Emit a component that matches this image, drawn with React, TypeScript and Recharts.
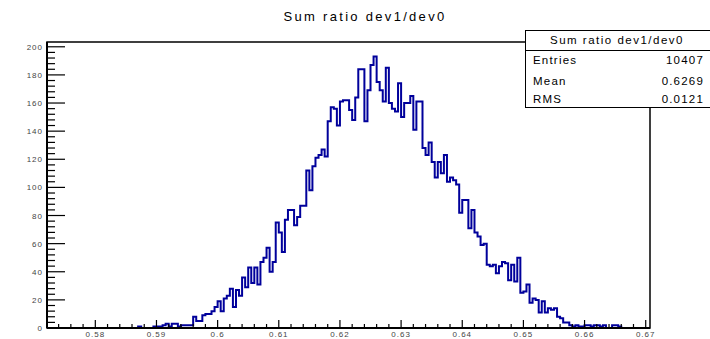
import { LineChart, Line, XAxis, YAxis, ReferenceArea } from 'recharts';

// histogram "Sum ratio dev1/dev0", bins of 0.0005 starting at 0.587
const binStart = 0.587;
const binWidth = 0.0005;
const counts = [
  1, 0, 0, 0, 0, 1, 1, 1, 2, 3, 1, 3, 3, 1, 2, 2, 2, 2,
  8, 5, 5, 9, 10, 10, 12, 15, 19, 12, 21, 23,
  28, 15, 27, 23, 36, 29, 43, 32, 43, 31, 47, 50,
  57, 40, 47, 75, 68, 54, 77, 84, 84, 73, 79, 87, 87,
  112, 98, 115, 121, 123, 127, 122, 147, 157, 156, 144, 161, 162, 162, 155, 148,
  164, 184, 184, 147, 169, 187, 193, 175, 169, 161, 185, 160, 156, 154, 174, 150,
  160, 160, 165, 141, 161, 161, 128,
  123, 132, 118, 107, 118, 110, 123, 104, 107, 105, 102, 82, 91, 91, 71, 84,
  68, 65, 59, 60, 45, 44, 45, 39, 44, 47, 46, 34, 45, 33, 50, 25,
  26, 31, 18, 21, 20, 11, 19, 11, 14, 13, 14, 8, 7, 4, 4, 2,
  1, 2, 1, 1, 2, 2, 1, 2, 2, 1, 2, 0, 0, 2, 2, 1,
];

const xDomain = [0.5721, 0.6707];
const yDomain = [0, 203.4];
const xMajor = [0.58, 0.59, 0.6, 0.61, 0.62, 0.63, 0.64, 0.65, 0.66, 0.67];
const xLabels = ['0.58', '0.59', '0.6', '0.61', '0.62', '0.63', '0.64', '0.65', '0.66', '0.67'];
const yMajor = [0, 20, 40, 60, 80, 100, 120, 140, 160, 180, 200];

const statsTitle = 'Sum ratio dev1/dev0';
const statsRows = [
  ['Entries', '10407'],
  ['Mean', '0.6269'],
  ['RMS', '0.0121'],
];

// minor ticks
const xTicks: number[] = [];
for (let k = 574; k <= 670; k += 2) xTicks.push(k / 1000);
const yTicks: number[] = [];
for (let k = 0; k <= 200; k += 4) yTicks.push(k);

// step outline, closed down to zero at both ends
const histData = [
  { x: binStart, y: 0 },
  ...counts.map((c, i) => ({ x: binStart + i * binWidth, y: c })),
  { x: binStart + counts.length * binWidth, y: counts[counts.length - 1] },
  { x: binStart + counts.length * binWidth, y: 0 },
];

const font = '"Liberation Sans", Arial, sans-serif';

function XTick(props: any) {
  const { x, y, payload } = props;
  const idx = xMajor.findIndex((m) => Math.abs(m - payload.value) < 1e-6);
  const major = idx >= 0;
  return (
    <g>
      <line x1={x} x2={x} y1={y} y2={y - (major ? 8 : 4)} stroke="#000" strokeWidth={1.2} />
      {major && (
        <text x={x} y={y + 9} textAnchor="middle" fontSize={8} letterSpacing={1} fill="#444" fontFamily={font}>
          {xLabels[idx]}
        </text>
      )}
    </g>
  );
}

function YTick(props: any) {
  const { x, y, payload } = props;
  const major = yMajor.includes(payload.value);
  return (
    <g>
      <line x1={x} x2={x + (major ? 18 : 8)} y1={y} y2={y} stroke="#000" strokeWidth={1.2} />
      {major && (
        <text x={x - 4} y={y + 3} textAnchor="end" fontSize={8} letterSpacing={1} fill="#444" fontFamily={font}>
          {payload.value}
        </text>
      )}
    </g>
  );
}

export default function App() {
  return (
    <div style={{ position: 'absolute', left: 0, top: 0, width: 710, height: 339, background: '#fff', fontFamily: font }}>
      <div style={{ position: 'absolute', left: 0, top: 9, width: 730, textAlign: 'center', fontSize: 13, letterSpacing: 2.3, color: '#000' }}>
        Sum ratio dev1/dev0
      </div>
      <LineChart width={710} height={339} data={histData} margin={{ top: 42, right: 60, bottom: 0, left: 0 }}>
        <XAxis
          dataKey="x"
          type="number"
          domain={xDomain}
          ticks={xTicks}
          interval={0}
          height={11}
          tickSize={0}
          tickMargin={0}
          tickLine={false}
          tick={<XTick />}
          axisLine={{ stroke: '#000', strokeWidth: 2 }}
          allowDataOverflow
        />
        <YAxis
          type="number"
          domain={yDomain}
          ticks={yTicks}
          interval={0}
          width={47}
          tickSize={0}
          tickMargin={0}
          tickLine={false}
          tick={<YTick />}
          axisLine={{ stroke: '#000', strokeWidth: 2 }}
          allowDataOverflow
        />
        <ReferenceArea x1={xDomain[0]} x2={xDomain[1]} y1={yDomain[0]} y2={yDomain[1]} fill="none" stroke="#000" strokeWidth={1.5} />
        <Line
          dataKey="y"
          type="stepAfter"
          stroke="#00009b"
          strokeWidth={2}
          dot={false}
          activeDot={false}
          isAnimationActive={false}
        />
      </LineChart>
      <div
        style={{
          position: 'absolute',
          left: 525,
          top: 30,
          width: 190,
          height: 76,
          background: '#fff',
          border: '1.5px solid #000',
          fontSize: 11.5,
          letterSpacing: 1.2,
          color: '#000',
        }}
      >
        <div style={{ height: 19, borderBottom: '1.5px solid #000', textAlign: 'center', paddingRight: 8, lineHeight: '19px', letterSpacing: 1.5 }}>
          {statsTitle}
        </div>
        {statsRows.map(([k, v], i) => (
          <div
            key={k}
            style={{ position: 'absolute', left: 7, width: 171, top: [23, 44, 62][i], display: 'flex', justifyContent: 'space-between', lineHeight: '13px' }}
          >
            <span>{k}</span>
            <span>{v}</span>
          </div>
        ))}
      </div>
    </div>
  );
}
